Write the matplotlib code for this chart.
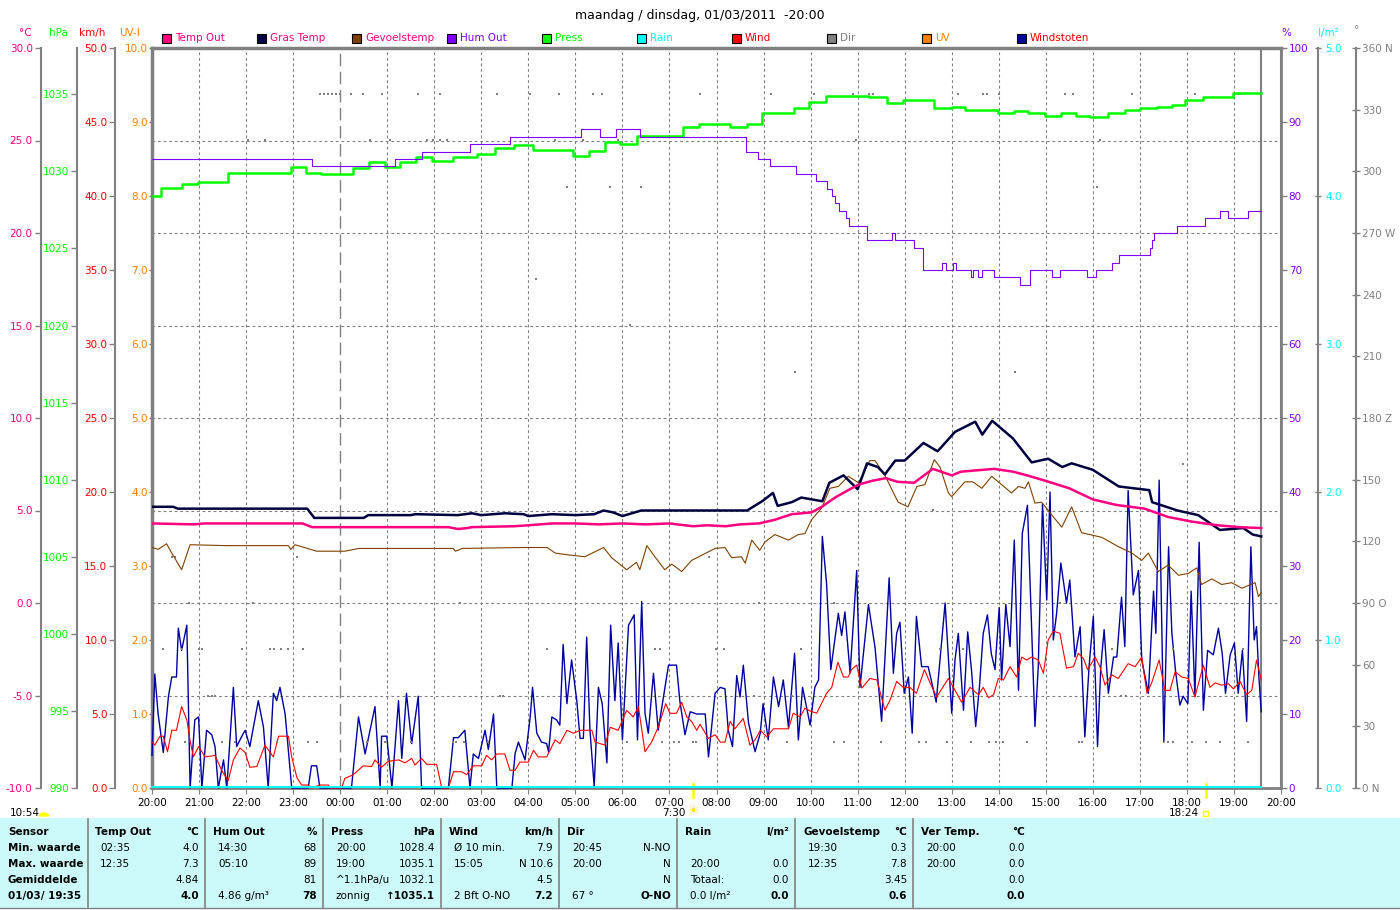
import numpy as np
import matplotlib.pyplot as plt
from matplotlib.patches import Rectangle, Wedge

# ---------------------------------------------------------------
# Gegevens: tijd in uren na 20:00 (maandag), waarden in eenheden
# ---------------------------------------------------------------
uren = ["20:00", "21:00", "22:00", "23:00", "00:00", "01:00", "02:00", "03:00",
        "04:00", "05:00", "06:00", "07:00", "08:00", "09:00", "10:00", "11:00",
        "12:00", "13:00", "14:00", "15:00", "16:00", "17:00", "18:00", "19:00", "20:00"]

temp_out = [(0.0, 4.3), (0.9, 4.25), (1.1, 4.3), (3.2, 4.3), (3.4, 4.1), (6.3, 4.1), (6.5, 4.0),
            (6.7, 4.05), (6.8, 4.1), (7.7, 4.15), (8.0, 4.2), (8.5, 4.3), (9.0, 4.3), (9.5, 4.25),
            (10.0, 4.3), (10.5, 4.25), (11.0, 4.3), (11.5, 4.15), (11.8, 4.2), (12.2, 4.15),
            (12.5, 4.25), (12.9, 4.3), (13.24, 4.5), (13.6, 4.8), (14.02, 4.9), (14.24, 5.2),
            (14.52, 5.7), (14.8, 6.1), (15.02, 6.4), (15.3, 6.6), (15.6, 6.75), (15.85, 6.55),
            (16.2, 6.5), (16.6, 7.25), (17.0, 6.9), (17.2, 7.1), (17.9, 7.25), (18.3, 7.1),
            (18.6, 6.9), (19.0, 6.6), (19.5, 6.2), (20.0, 5.6), (20.5, 5.3), (21.1, 5.1),
            (21.6, 4.65), (22.1, 4.4), (22.66, 4.2), (23.1, 4.1), (23.58, 4.05)]

gras_temp = [(0.0, 5.2), (0.45, 5.2), (0.55, 5.1), (3.3, 5.1), (3.45, 4.6), (4.5, 4.6), (4.6, 4.75),
             (5.5, 4.75), (5.6, 4.8), (6.5, 4.75), (6.8, 4.85), (7.0, 4.75), (7.5, 4.85), (7.9, 4.8),
             (8.0, 4.7), (8.5, 4.8), (9.0, 4.75), (9.4, 4.8), (9.6, 5.0), (9.8, 4.9), (10.0, 4.7),
             (10.4, 5.0), (12.65, 5.0), (12.97, 5.5), (13.2, 5.95), (13.3, 5.25), (13.6, 5.45),
             (13.8, 5.7), (14.25, 5.5), (14.4, 6.5), (14.7, 6.9), (15.0, 6.15), (15.2, 7.55),
             (15.43, 7.35), (15.58, 6.95), (15.8, 7.7), (16.0, 7.7), (16.4, 8.65), (16.7, 8.2),
             (17.07, 9.25), (17.5, 9.8), (17.65, 9.1), (17.86, 9.85), (18.3, 8.9), (18.7, 7.6),
             (19.05, 7.8), (19.35, 7.35), (19.55, 7.55), (20.0, 7.2), (20.55, 6.3), (21.2, 6.1),
             (21.26, 5.45), (21.8, 5.0), (22.24, 4.75), (22.7, 3.95), (23.2, 4.05), (23.4, 3.7),
             (23.58, 3.6)]

gevoelstemp = [(0.0, 3.0), (0.13, 2.9), (0.31, 3.2), (0.42, 2.7), (0.63, 1.8), (0.81, 3.15),
               (1.6, 3.1), (2.9, 3.1), (2.95, 2.9), (3.04, 3.15), (3.5, 2.8), (4.1, 2.8), (4.4, 2.95),
               (6.4, 2.95), (6.45, 2.8), (6.6, 2.95), (7.9, 3.0), (8.4, 3.0), (8.57, 2.7), (8.85, 2.6),
               (9.2, 2.5), (9.6, 3.0), (9.77, 2.45), (10.09, 1.8), (10.3, 2.2), (10.37, 1.8),
               (10.52, 3.1), (10.69, 2.5), (10.9, 1.8), (11.05, 2.1), (11.26, 1.7), (11.47, 2.3),
               (11.97, 2.95), (12.18, 3.0), (12.32, 2.45), (12.53, 2.5), (12.61, 2.15), (12.75, 3.4),
               (12.92, 2.85), (13.03, 3.3), (13.24, 3.7), (13.53, 3.4), (13.74, 3.7), (13.88, 3.75),
               (14.02, 4.5), (14.24, 5.15), (14.41, 6.2), (14.59, 6.3), (14.8, 6.85), (15.02, 6.5),
               (15.26, 7.7), (15.37, 7.7), (15.58, 6.9), (15.86, 5.45), (16.07, 5.2), (16.26, 6.3),
               (16.43, 6.4), (16.63, 7.75), (16.75, 7.35), (16.93, 5.95), (17.0, 5.75), (17.28, 6.55),
               (17.45, 6.55), (17.64, 6.2), (17.85, 6.85), (18.06, 6.4), (18.27, 5.95), (18.42, 6.3),
               (18.56, 6.2), (18.63, 6.55), (18.77, 5.4), (18.91, 5.45), (19.13, 4.75), (19.34, 4.1),
               (19.55, 5.2), (19.76, 3.8), (20.19, 3.55), (20.54, 3.05), (20.83, 2.7), (21.04, 2.3),
               (21.18, 2.7), (21.39, 1.7), (21.6, 2.05), (21.82, 1.5), (22.03, 1.6), (22.21, 1.9),
               (22.31, 1.0), (22.53, 1.3), (22.74, 1.0), (22.95, 1.1), (23.17, 0.8), (23.45, 1.1),
               (23.52, 0.35), (23.58, 0.55)]

# trappen: (begintijd, waarde)
hum_out = [(0.0, 85), (3.4, 84), (5.17, 85), (5.74, 86), (6.75, 87), (7.6, 88), (9.12, 89),
           (9.53, 88), (9.87, 89), (10.37, 88), (12.62, 86), (12.88, 85), (13.14, 84), (13.7, 83),
           (14.12, 82), (14.35, 81), (14.45, 80), (14.52, 79), (14.6, 78), (14.76, 77), (14.82, 76),
           (15.2, 74), (15.74, 75), (15.79, 74), (16.2, 73), (16.38, 70), (16.8, 71), (16.88, 70),
           (17.03, 71), (17.1, 70), (17.4, 69), (17.46, 70), (17.56, 69), (17.64, 70), (17.9, 69),
           (18.46, 68), (18.66, 70), (19.13, 69), (19.3, 70), (19.88, 69), (20.07, 70), (20.4, 71),
           (20.55, 72), (21.22, 73), (21.26, 74), (21.3, 75), (21.78, 76), (22.38, 77), (22.7, 78),
           (22.88, 77), (23.3, 78), (23.58, 78)]

press = [(0.0, 1028.4), (0.2, 1028.9), (0.63, 1029.15), (0.98, 1029.3), (1.62, 1029.9),
         (2.95, 1030.3), (3.28, 1029.9), (3.6, 1029.8), (4.27, 1030.2), (4.62, 1030.6),
         (4.95, 1030.3), (5.27, 1030.6), (5.62, 1030.95), (5.95, 1030.7), (6.4, 1030.9),
         (6.9, 1031.1), (7.3, 1031.5), (7.7, 1031.7), (8.1, 1031.4), (8.96, 1031.0), (9.3, 1031.3),
         (9.64, 1031.9), (9.95, 1031.8), (10.3, 1032.3), (11.28, 1032.9), (11.63, 1033.1),
         (12.28, 1032.9), (12.65, 1033.1), (12.97, 1033.8), (13.64, 1034.1), (13.96, 1034.5),
         (14.32, 1034.9), (15.25, 1034.85), (15.62, 1034.45), (15.97, 1034.6), (16.62, 1034.1),
         (17.0, 1034.15), (17.28, 1034.0), (17.64, 1033.95), (17.98, 1033.8), (18.33, 1033.9),
         (18.62, 1033.8), (18.98, 1033.6), (19.32, 1033.8), (19.64, 1033.6), (19.95, 1033.55),
         (20.32, 1033.8), (20.68, 1034.0), (21.0, 1034.1), (21.36, 1034.15), (21.68, 1034.3),
         (21.96, 1034.6), (22.34, 1034.85), (22.98, 1035.1), (23.58, 1035.1)]

wind = [(0.0, 3.1), (0.06, 2.9), (0.17, 3.5), (0.24, 3.5), (0.33, 2.45), (0.42, 3.9), (0.52, 3.9),
        (0.63, 5.5), (0.74, 4.6), (0.81, 3.2), (0.88, 2.1), (0.99, 2.8), (1.13, 2.1), (1.34, 2.2),
        (1.48, 1.2), (1.62, 0.5), (1.73, 1.9), (1.87, 2.7), (1.98, 2.4), (2.08, 1.4), (2.23, 1.45),
        (2.4, 2.9), (2.58, 2.1), (2.69, 3.5), (2.9, 3.5), (2.97, 2.1), (3.08, 0.7), (3.18, 0.2),
        (3.32, 0.2), (3.39, 0.0), (3.57, 0.2), (3.75, 0.2), (3.78, 0.0), (4.03, 0.0), (4.1, 0.65),
        (4.28, 0.9), (4.49, 1.5), (4.67, 1.45), (4.74, 1.9), (4.88, 1.4), (5.02, 1.8), (5.24, 1.9),
        (5.38, 1.7), (5.52, 2.0), (5.59, 1.55), (5.73, 2.0), (5.84, 1.6), (6.05, 1.6), (6.16, 0.0),
        (6.3, 0.0), (6.41, 1.1), (6.58, 1.1), (6.69, 0.9), (6.83, 1.5), (7.01, 1.5), (7.11, 2.2),
        (7.22, 1.9), (7.33, 2.3), (7.5, 2.3), (7.61, 1.2), (7.72, 1.2), (7.82, 1.75), (8.0, 1.75),
        (8.11, 2.55), (8.21, 2.1), (8.39, 2.1), (8.57, 3.25), (8.67, 3.0), (8.82, 3.9), (8.96, 3.7),
        (9.1, 3.9), (9.35, 3.9), (9.42, 3.1), (9.63, 2.9), (9.74, 4.1), (9.91, 3.9), (10.09, 5.25),
        (10.23, 4.8), (10.34, 5.5), (10.48, 2.45), (10.62, 3.1), (10.76, 4.1), (10.92, 5.7),
        (11.01, 5.05), (11.15, 5.05), (11.26, 5.8), (11.37, 4.8), (11.47, 4.5), (11.58, 3.9),
        (11.65, 4.3), (11.83, 3.35), (11.97, 3.6), (12.08, 3.1), (12.18, 3.1), (12.29, 4.5),
        (12.39, 4.0), (12.57, 4.7), (12.71, 2.9), (12.82, 3.25), (12.93, 3.9), (13.07, 3.45),
        (13.21, 4.0), (13.53, 4.0), (13.63, 5.05), (13.78, 4.8), (13.88, 5.4), (13.99, 5.2),
        (14.13, 5.05), (14.34, 6.4), (14.45, 6.8), (14.58, 8.5), (14.7, 7.5), (14.8, 7.5),
        (14.87, 8.0), (14.98, 8.3), (15.09, 6.75), (15.26, 7.4), (15.41, 7.3), (15.58, 5.25),
        (15.69, 5.95), (15.83, 7.2), (15.97, 6.8), (16.11, 6.8), (16.25, 6.4), (16.42, 8.0),
        (16.54, 7.1), (16.68, 6.15), (16.93, 7.4), (17.07, 6.6), (17.21, 5.8), (17.39, 6.8),
        (17.57, 6.3), (17.67, 6.8), (17.78, 6.1), (17.89, 6.3), (17.99, 7.4), (18.1, 7.3),
        (18.24, 8.2), (18.38, 7.5), (18.49, 8.85), (18.59, 8.65), (18.7, 8.85), (18.84, 8.65),
        (18.95, 7.75), (19.05, 10.0), (19.16, 10.6), (19.3, 10.45), (19.44, 8.1), (19.59, 8.2),
        (19.69, 9.1), (19.8, 8.75), (19.89, 8.0), (20.05, 8.85), (20.15, 8.2), (20.26, 6.95),
        (20.4, 7.65), (20.54, 7.4), (20.75, 8.4), (20.9, 8.2), (21.04, 8.85), (21.15, 6.4),
        (21.25, 7.1), (21.41, 8.65), (21.53, 6.6), (21.64, 6.6), (21.75, 7.85), (21.89, 7.5),
        (22.03, 7.4), (22.17, 6.15), (22.35, 8.3), (22.49, 6.8), (22.6, 7.1), (22.74, 6.95),
        (22.88, 7.05), (22.99, 6.7), (23.13, 7.2), (23.27, 6.3), (23.38, 6.6), (23.48, 8.65),
        (23.58, 7.3)]

windstoten = [(0.0, 2.2), (0.06, 7.7), (0.13, 5.0), (0.24, 2.4), (0.35, 6.2), (0.42, 7.5), (0.52, 7.5),
              (0.56, 10.8), (0.63, 9.3), (0.74, 11.0), (0.81, 0.0), (0.91, 4.6), (0.99, 4.8),
              (1.06, 0.0), (1.16, 3.9), (1.27, 3.6), (1.34, 2.8), (1.41, 0.0), (1.52, 1.9), (1.59, 0.0),
              (1.73, 6.8), (1.8, 2.8), (1.91, 3.5), (1.98, 3.9), (2.08, 2.8), (2.26, 5.9), (2.37, 4.1),
              (2.47, 0.0), (2.58, 6.4), (2.65, 5.9), (2.72, 6.8), (2.83, 5.0), (2.97, 0.0), (3.32, 0.0),
              (3.39, 1.5), (3.5, 1.5), (3.57, 0.0), (4.24, 0.0), (4.39, 4.8), (4.53, 2.3), (4.74, 5.5),
              (4.85, 0.0), (4.88, 3.5), (4.99, 3.5), (5.1, 0.0), (5.24, 5.9), (5.31, 2.0), (5.41, 6.4),
              (5.52, 3.0), (5.66, 6.2), (5.73, 0.0), (6.3, 0.0), (6.41, 3.4), (6.51, 3.4), (6.65, 3.9),
              (6.76, 0.0), (6.83, 2.3), (6.94, 2.0), (7.08, 3.9), (7.15, 2.6), (7.26, 5.0), (7.33, 0.0),
              (7.65, 0.0), (7.72, 2.35), (7.79, 3.1), (7.93, 1.9), (8.04, 4.8), (8.09, 6.8), (8.18, 3.7),
              (8.28, 3.1), (8.39, 3.0), (8.43, 2.45), (8.5, 4.8), (8.6, 4.6), (8.67, 4.25), (8.74, 9.7),
              (8.82, 5.7), (8.92, 8.65), (9.03, 5.9), (9.1, 3.35), (9.17, 3.35), (9.24, 10.2),
              (9.31, 3.9), (9.4, 0.1), (9.49, 6.8), (9.57, 5.7), (9.67, 1.7), (9.75, 11.0), (9.84, 5.9),
              (9.91, 9.8), (10.0, 3.25), (10.13, 11.0), (10.25, 11.7), (10.32, 3.25), (10.41, 12.6),
              (10.48, 5.05), (10.55, 3.7), (10.66, 7.75), (10.76, 3.9), (10.84, 5.5), (10.98, 8.3),
              (11.15, 8.3), (11.22, 5.9), (11.33, 3.6), (11.44, 5.15), (11.58, 5.0), (11.76, 5.0),
              (11.83, 2.1), (11.97, 6.4), (12.08, 6.8), (12.18, 6.7), (12.25, 3.9), (12.34, 2.8),
              (12.43, 7.6), (12.5, 6.15), (12.57, 8.3), (12.68, 4.4), (12.82, 2.45), (12.93, 3.7),
              (12.99, 5.7), (13.1, 3.25), (13.21, 7.5), (13.32, 5.5), (13.42, 7.3), (13.53, 4.1),
              (13.66, 9.1), (13.74, 3.25), (13.83, 6.8), (13.99, 4.25), (14.09, 6.8), (14.17, 7.3),
              (14.25, 17.0), (14.34, 13.8), (14.43, 8.0), (14.59, 11.8), (14.66, 10.3), (14.73, 11.9),
              (14.84, 7.75), (14.98, 14.7), (15.05, 6.8), (15.23, 12.4), (15.37, 9.5), (15.51, 4.5),
              (15.67, 14.2), (15.76, 7.75), (15.83, 10.45), (15.9, 11.2), (15.99, 6.4), (16.08, 7.5),
              (16.16, 3.7), (16.25, 11.6), (16.36, 8.2), (16.5, 8.2), (16.67, 5.8), (16.75, 8.65),
              (16.86, 12.5), (17.0, 5.05), (17.07, 8.65), (17.14, 10.45), (17.25, 5.25), (17.34, 10.55),
              (17.42, 8.0), (17.51, 4.15), (17.59, 6.85), (17.67, 10.45), (17.76, 11.7), (17.84, 9.1),
              (17.92, 8.0), (18.01, 12.2), (18.06, 7.3), (18.15, 12.4), (18.24, 9.55), (18.33, 16.75),
              (18.42, 6.6), (18.5, 17.2), (18.61, 19.1), (18.68, 12.5), (18.77, 4.15), (18.84, 8.2),
              (18.93, 19.2), (19.02, 12.7), (19.09, 20.0), (19.16, 10.0), (19.23, 11.8), (19.32, 15.2),
              (19.44, 12.5), (19.51, 14.05), (19.62, 8.85), (19.73, 10.9), (19.83, 3.45), (19.92, 8.2),
              (20.01, 11.6), (20.1, 2.8), (20.17, 8.2), (20.24, 10.7), (20.33, 6.4), (20.44, 8.85),
              (20.51, 8.85), (20.61, 12.9), (20.68, 9.55), (20.75, 20.1), (20.86, 13.05), (20.97, 14.7),
              (21.04, 8.65), (21.18, 6.4), (21.29, 13.3), (21.34, 10.45), (21.41, 20.8), (21.51, 3.1),
              (21.61, 16.3), (21.68, 10.45), (21.76, 7.85), (21.85, 5.6), (21.92, 6.2), (22.02, 5.7),
              (22.09, 13.3), (22.17, 6.2), (22.26, 16.6), (22.35, 5.25), (22.44, 9.3), (22.56, 9.0),
              (22.67, 10.8), (22.75, 9.1), (22.82, 6.4), (22.92, 9.0), (23.01, 9.8), (23.09, 6.4),
              (23.18, 9.3), (23.27, 4.5), (23.36, 16.3), (23.43, 10.0), (23.48, 10.9), (23.53, 7.5),
              (23.58, 5.15)]

# windrichting: uren waarop de richting (graden) gemeten werd
dir_nnw = [3.57, 3.66, 3.74, 3.83, 3.91, 4.0, 4.23, 4.49, 4.89, 5.65, 6.12, 7.33, 8.04, 8.65, 9.38,
           9.56, 11.65, 13.15, 14.07, 14.9, 15.25, 15.32, 17.14, 17.66, 17.74, 18.0, 19.41, 19.57,
           20.83, 22.17, 23.09, 23.17]                       # 337.5
dir_nw = [2.04, 2.4, 4.63, 5.06, 5.85, 5.97, 6.12, 6.27, 8.57, 9.17, 9.91, 14.97, 20.15]  # 315
dir_wnw = [8.82, 9.74, 10.39, 20.08]                         # 292.5
dir_wzw = [8.16]                                             # 247.5
dir_zw = [10.16]                                             # 225
dir_zzw = [13.67, 18.35]                                     # 202.5
dir_zzo = [21.92]                                            # 157.5
dir_zo = [16.6]                                              # 135
dir_ozo = [0.42, 0.49, 3.08, 11.83]                          # 112.5
dir_o = [0.78, 2.15, 6.55, 12.9, 14.5, 19.3]                 # 90
dir_ono = [0.24, 0.63, 1.0, 1.06, 1.91, 2.5, 2.6, 2.75, 2.9, 3.22, 8.4, 10.7, 10.8, 11.98,
           12.15, 13.8, 16.75, 17.25, 20.4, 21.7, 23.2]      # 67.5
dir_no = [1.2, 1.27, 1.34, 7.4, 7.47, 12.8, 13.6, 20.6, 20.7]  # 45
dir_nno = [0.7, 1.48, 1.77, 2.65, 3.32, 3.5, 4.57, 4.96, 5.5, 6.4, 6.47, 6.63, 7.14, 10.1, 10.84,
           11.1, 11.2, 11.5, 11.57, 13.5, 14.5, 14.7, 15.5, 16.3, 16.45, 16.9, 17.4, 17.8, 17.95,
           18.1, 18.6, 19.7, 19.77, 21.6, 21.7, 22.1, 22.4, 22.7, 23.3]  # 22.5

nu = 23.58          # 19:35
zon_op = 11.5       # 07:30
zon_onder = 22.4    # 18:24

# tabel onder de grafiek
kop_kolommen = ["Temp Out", "Hum Out", "Press", "Wind", "Dir", "Rain", "Gevoelstemp", "Ver Temp."]
eenheden = ["°C", "%", "hPa", "km/h", "", "l/m²", "°C", "°C"]
links_tekst = [["02:35", "12:35", "", ""],
               ["14:30", "05:10", "", "4.86 g/m³"],
               ["20:00", "19:00", "^1.1hPa/u", "zonnig"],
               ["Ø 10 min.", "15:05", "", "2 Bft O-NO"],
               ["20:45", "20:00", "", "67 °"],
               ["", "20:00", "Totaal:", "0.0 l/m²"],
               ["19:30", "12:35", "", ""],
               ["20:00", "20:00", "", ""]]
rechts_tekst = [["4.0", "7.3", "4.84", "4.0"],
                ["68", "89", "81", "78"],
                ["1028.4", "1035.1", "1032.1", "↑1035.1"],
                ["7.9", "N 10.6", "4.5", "7.2"],
                ["N-NO", "N", "N", "O-NO"],
                ["", "0.0", "0.0", "0.0"],
                ["0.3", "7.8", "3.45", "0.6"],
                ["0.0", "0.0", "0.0", "0.0"]]
rij_namen = ["Sensor", "Min. waarde", "Max. waarde", "Gemiddelde", "01/03/ 19:35"]

# ---------------------------------------------------------------
roze = '#ff0080'
navy = '#000040'
bruin = '#804000'
paars = '#8000ff'
groen = '#00ff00'
cyaan = '#00ffff'
rood = '#ff0000'
grijs = '#808080'
oranje = '#ff8000'
blauw = '#0000a0'
geel = '#ffff00'

W, H = 1400, 910
FS = 7.5


def fx(px):
    return px / W


def fy(py):
    return 1 - py / H


def xy(reeks):
    a = np.array(reeks, dtype=float)
    return a[:, 0], a[:, 1]


fig = plt.figure(figsize=(W / 100, H / 100), dpi=100)
L, R, T, B = 152, 1281, 48, 788
rect = [fx(L), fy(B), (R - L) / W, (B - T) / H]

ax = fig.add_axes(rect)
ax.set_xlim(0, 24)
ax.set_ylim(-10, 30)
ax.set_yticks([])
ax.set_xticks(range(25), uren)
ax.tick_params(axis='x', colors=grijs, labelcolor='black', labelsize=FS, length=4, pad=3)
for s in ax.spines.values():
    s.set_color(grijs)
    s.set_linewidth(2)
ax.spines['top'].set_linewidth(2.5)
ax.spines['left'].set_linewidth(2.5)
for u in range(1, 24):
    if u == 4:
        ax.axvline(u, color=grijs, lw=1, ls=(0, (9, 4)))
    else:
        ax.axvline(u, color=grijs, lw=0.8, ls=(0, (2.5, 2.5)))
for t in range(-5, 30, 5):
    ax.axhline(t, color=grijs, lw=0.8, ls=(0, (2.5, 2.5)))
ax.axvline(nu, color=grijs, lw=1.5)


def schaal(ylim, kant, pos, ticks, labels, kleur, richting, lengte, pad):
    a = fig.add_axes(rect, facecolor='none')
    a.set_xlim(0, 24)
    a.set_ylim(*ylim)
    for s in a.spines.values():
        s.set_visible(False)
    a.spines[kant].set_visible(True)
    a.spines[kant].set_position(('axes', pos))
    a.spines[kant].set_color(grijs)
    a.spines[kant].set_linewidth(1.5)
    a.xaxis.set_visible(False)
    a.yaxis.set_ticks_position(kant)
    a.set_yticks(ticks, labels)
    a.tick_params(axis='y', colors=grijs, labelcolor=kleur, direction=richting,
                  length=lengte, width=1, labelsize=FS, pad=pad)
    return a


kmh_t = np.arange(0, 51, 5)
ax_kmh = schaal((0, 50), 'left', -0.0328, kmh_t, [f"{v:.1f}" for v in kmh_t], rood, 'out', 4, 1.5)
dir_t = np.arange(0, 361, 30)
dir_l = [f"{v}" + {0: " N", 90: " O", 180: " Z", 270: " W", 360: " N"}.get(v, "") for v in dir_t]
ax_dir = schaal((0, 360), 'right', 1.0664, dir_t, dir_l, grijs, 'inout', 6, 1.5)
temp_t = np.arange(-10, 31, 5)
ax_t = schaal((-10, 30), 'left', -0.0983, temp_t, [f"{v:.1f}" for v in temp_t], roze, 'out', 4, 2)
hpa_t = np.arange(990, 1036, 5)
ax_p = schaal((990, 1038), 'left', -0.0664, hpa_t, [f"{v}" for v in hpa_t], groen, 'out', 4, 1.5)
hum_t = np.arange(0, 101, 10)
ax_h = schaal((0, 100), 'right', 1.0, hum_t, [f"{v}" for v in hum_t], paars, 'out', 4, 1.5)
rain_t = np.arange(0, 6, 1)
ax_r = schaal((0, 5), 'right', 1.0328, rain_t, [f"{v:.1f}" for v in rain_t], cyaan, 'inout', 5, 2.5)
uv_t = np.arange(0, 11, 1)
ax_uv = schaal((0, 10), 'left', 0.0, uv_t, [f"{v:.1f}" for v in uv_t], oranje, 'out', 2, 1)
ax_uv.spines['left'].set_visible(False)

# windrichting
for uren_lijst, graden in [(dir_nnw, 337.5), (dir_nw, 315), (dir_wnw, 292.5), (dir_wzw, 247.5),
                           (dir_zw, 225), (dir_zzw, 202.5), (dir_zzo, 157.5), (dir_zo, 135),
                           (dir_ozo, 112.5), (dir_o, 90), (dir_ono, 67.5), (dir_no, 45),
                           (dir_nno, 22.5)]:
    ax_dir.plot(uren_lijst, [graden] * len(uren_lijst), ls='none', marker='s', ms=1.7,
                mew=0, color=grijs)

# wind
ax_kmh.plot(*xy(windstoten), color=blauw, lw=1.0, clip_on=False)
ax_kmh.plot(*xy(wind), color=rood, lw=0.8, clip_on=False)

# temperaturen
ax_t.plot(*xy(gevoelstemp), color=bruin, lw=0.8)
ax_t.plot(*xy(gras_temp), color=navy, lw=1.8)
ax_t.plot(*xy(temp_out), color=roze, lw=1.8)

# druk en vochtigheid
ax_p.plot(*xy(press), color=groen, lw=1.8, drawstyle='steps-post')
ax_h.plot(*xy(hum_out), color=paars, lw=0.8, drawstyle='steps-post')

# regen (0)
ax_r.plot([0, nu], [0.01, 0.01], color=cyaan, lw=1.4, clip_on=False)

# zon op / onder
xt = ax.get_xaxis_transform()
for z in (zon_op, zon_onder):
    ax.plot([z, z], [-0.012, 0.005], transform=xt, color=geel, lw=1.8, clip_on=False)
ax.text(zon_op + 0.02, -0.0325, "☀", transform=xt, color='#ffe000', fontsize=9, ha='center', va='center')
ax.text(zon_op - 0.15, -0.0335, "7:30", transform=xt, fontsize=FS, ha='right', va='center')
ax.text(zon_onder - 0.15, -0.0335, "18:24", transform=xt, fontsize=FS, ha='right', va='center')
fig.patches.append(Rectangle((fx(1203), fy(816)), 5 / W, 5 / H, fill=False, ec=geel, lw=1,
                             transform=fig.transFigure))
fig.text(fx(10), fy(813), "10:54", fontsize=FS, ha='left', va='center')
fig.patches.append(Wedge((fx(44), fy(816)), 4.5 / W, 0, 180, color=geel, transform=fig.transFigure))

# titel
fig.text(0.5, fy(15), "maandag / dinsdag, 01/03/2011  -20:00", fontsize=9, ha='center', va='center')

# eenheden boven de assen
for tekst, x, kleur in [("°C", 25, roze), ("hPa", 58, groen), ("km/h", 92, rood), ("UV-I", 130, oranje),
                        ("%", 1286, paars), ("l/m²", 1328, cyaan)]:
    fig.text(fx(x), fy(33), tekst, color=kleur, fontsize=FS, ha='center', va='center')
fig.text(fx(1357), fy(30), "°", color=grijs, fontsize=FS, ha='center', va='center')

# legenda
legenda = [("Temp Out", roze, roze), ("Gras Temp", navy, roze), ("Gevoelstemp", bruin, roze),
           ("Hum Out", paars, paars), ("Press", groen, groen), ("Rain", cyaan, cyaan),
           ("Wind", rood, rood), ("Dir", grijs, grijs), ("UV", oranje, oranje),
           ("Windstoten", blauw, rood)]
for i, (naam, vak, tekstkleur) in enumerate(legenda):
    x0 = 162 + i * 95
    fig.patches.append(Rectangle((fx(x0), fy(43)), 9 / W, 9 / H, fc=vak, ec='black', lw=0.8,
                                 transform=fig.transFigure))
    fig.text(fx(x0 + 13), fy(38), naam, color=tekstkleur, fontsize=FS, ha='left', va='center')

# tabel
fig.patches.append(Rectangle((0, fy(908)), 1, (908 - 818) / H, fc='#ccfafa', ec='none',
                             transform=fig.transFigure, zorder=0))
fig.lines.append(plt.Line2D([0, 1], [fy(908), fy(908)], color=grijs, lw=1, transform=fig.transFigure))
for xs in [88, 205, 323, 441, 559, 677, 795, 913]:
    fig.lines.append(plt.Line2D([fx(xs)] * 2, [fy(819), fy(907)], color=grijs, lw=1.2,
                                transform=fig.transFigure))
rijen_y = [832, 848, 864, 880, 896]
for r, naam in enumerate(rij_namen):
    fig.text(fx(8), fy(rijen_y[r]), naam, fontsize=FS, fontweight='bold', va='center')
for k in range(len(kop_kolommen)):
    xl = 95 + k * 118
    xr = xl + 104
    fig.text(fx(xl), fy(rijen_y[0]), kop_kolommen[k], fontsize=FS, fontweight='bold', va='center')
    fig.text(fx(xr), fy(rijen_y[0]), eenheden[k], fontsize=FS, fontweight='bold', va='center', ha='right')
    for r in range(4):
        gewicht = 'bold' if r == 3 else 'normal'
        fig.text(fx(xl + 5), fy(rijen_y[r + 1]), links_tekst[k][r], fontsize=FS, va='center')
        fig.text(fx(xr), fy(rijen_y[r + 1]), rechts_tekst[k][r], fontsize=FS, va='center', ha='right',
                 fontweight=gewicht)

fig.savefig("out.png", dpi=100, facecolor='white')
